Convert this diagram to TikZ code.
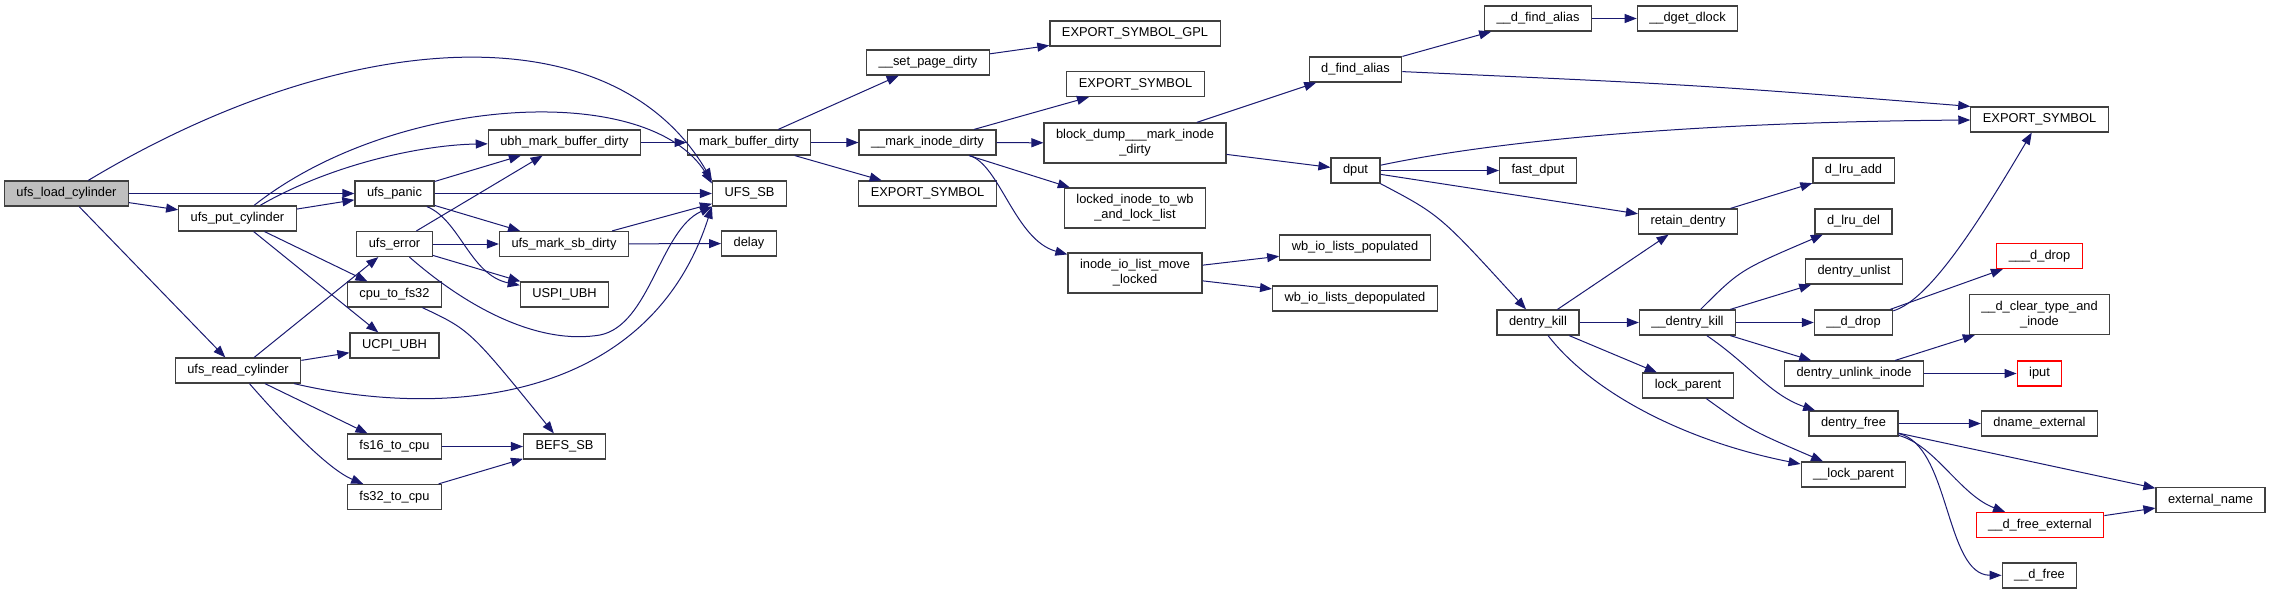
\documentclass[tikz,border=0pt]{standalone}
\usepackage{fontspec}
\setmainfont{Liberation Sans}
\usepackage{xcolor}
\usetikzlibrary{arrows.meta}
\definecolor{edgeblue}{HTML}{191970}
\definecolor{rootgray}{HTML}{BFBFBF}
\tikzset{
  fnbox/.style={draw=black!75, line width=1.2pt, fill=white, rectangle,
    minimum height=25pt, inner xsep=12pt, inner ysep=3pt, align=center,
    font=\fontsize{12.85}{15}\selectfont},
  rootbox/.style={fnbox, fill=rootgray},
  truncbox/.style={fnbox, draw=red},
  tallbox/.style={fnbox, minimum height=40pt},
  callarrow/.style={draw=edgeblue, line width=1pt, -{Triangle[length=12pt,width=9pt]}}
}
\begin{document}
\begin{tikzpicture}[x=1pt, y=-1pt]
            \useasboundingbox (0,0) rectangle (2269,595);
            \node[rootbox] (loadcyl) at (66.5,193.5) {ufs\_load\_cylinder};
            \node[fnbox] (putcyl) at (237.5,218.5) {ufs\_put\_cylinder};
            \node[fnbox] (readcyl) at (238,370.5) {ufs\_read\_cylinder};
            \node[fnbox] (panic) at (394.5,193.5) {ufs\_panic};
            \node[fnbox] (uerror) at (394.5,244) {ufs\_error};
            \node[fnbox] (cpufs32) at (394.5,294.5) {cpu\_to\_fs32};
            \node[fnbox] (ucpi) at (394.5,345.5) {UCPI\_UBH};
            \node[fnbox] (fs16) at (394.5,446.5) {fs16\_to\_cpu};
            \node[fnbox] (fs32) at (394.5,497) {fs32\_to\_cpu};
            \node[fnbox] (ubhdirty) at (564.5,142.5) {ubh\_mark\_buffer\_dirty};
            \node[fnbox] (sbdirty) at (564,244) {ufs\_mark\_sb\_dirty};
            \node[fnbox] (uspi) at (564.5,294.5) {USPI\_UBH};
            \node[fnbox] (befs) at (564.5,446.5) {BEFS\_SB};
            \node[fnbox] (mbdirty) at (749,142.5) {mark\_buffer\_dirty};
            \node[fnbox] (ufssb) at (749.5,193.5) {UFS\_SB};
            \node[fnbox] (delay) at (749,243.5) {delay};
            \node[fnbox] (setpage) at (928,62.5) {\_\_set\_page\_dirty};
            \node[fnbox] (markinode) at (927.5,142.5) {\_\_mark\_inode\_dirty};
            \node[fnbox] (expsym1) at (927.5,193.5) {EXPORT\_SYMBOL};
            \node[fnbox] (expgpl) at (1135,33.5) {EXPORT\_SYMBOL\_GPL};
            \node[fnbox] (expsym2) at (1135.5,84) {EXPORT\_SYMBOL};
            \node[tallbox] (blockdump) at (1135,143) {block\_dump\_\_\_mark\_inode\\\_dirty};
            \node[tallbox] (lockedinode) at (1135,208) {locked\_inode\_to\_wb\\\_and\_lock\_list};
            \node[tallbox] (iolistmove) at (1135,273) {inode\_io\_list\_move\\\_locked};
            \node[fnbox] (dfindalias) at (1355.5,69.5) {d\_find\_alias};
            \node[fnbox] (dput) at (1355.5,170.5) {dput};
            \node[fnbox] (wbpop) at (1355,247.5) {wb\_io\_lists\_populated};
            \node[fnbox] (wbdepop) at (1355,298.5) {wb\_io\_lists\_depopulated};
            \node[fnbox] (ddfindalias) at (1538,18.5) {\_\_d\_find\_alias};
            \node[fnbox] (dgetdlock) at (1687.5,18.5) {\_\_dget\_dlock};
            \node[fnbox] (fastdput) at (1538,170.5) {fast\_dput};
            \node[fnbox] (dkill) at (1538,322.5) {dentry\_kill};
            \node[fnbox] (retain) at (1688,221.5) {retain\_dentry};
            \node[fnbox] (ddkill) at (1687.5,322.5) {\_\_dentry\_kill};
            \node[fnbox] (lockparent) at (1688,385.5) {lock\_parent};
            \node[fnbox] (lruadd) at (1853.5,170.5) {d\_lru\_add};
            \node[fnbox] (lrudel) at (1853.5,221.5) {d\_lru\_del};
            \node[fnbox] (unlist) at (1854,271.5) {dentry\_unlist};
            \node[fnbox] (ddrop) at (1853.5,322.5) {\_\_d\_drop};
            \node[fnbox] (unlinkinode) at (1854,373.5) {dentry\_unlink\_inode};
            \node[fnbox] (dfree) at (1853.5,423.5) {dentry\_free};
            \node[fnbox] (dlockparent) at (1853.5,474.5) {\_\_lock\_parent};
            \node[fnbox] (expsym3) at (2039.5,119.5) {EXPORT\_SYMBOL};
            \node[truncbox] (dddrop) at (2039.5,256) {\_\_\_d\_drop};
            \node[tallbox] (dclear) at (2039.5,314.5) {\_\_d\_clear\_type\_and\\\_inode};
            \node[truncbox] (iput) at (2039.5,373.5) {iput};
            \node[fnbox] (dnameext) at (2039.5,423.5) {dname\_external};
            \node[truncbox] (dfreeext) at (2040,525) {\_\_d\_free\_external};
            \node[fnbox] (ddfree) at (2039.5,575.5) {\_\_d\_free};
            \node[fnbox] (extname) at (2210.5,500) {external\_name};

            \draw[callarrow] (loadcyl) .. controls (345,26) and (612,10) .. (ufssb.north west);
            \draw[callarrow] (loadcyl) -- (panic);
            \draw[callarrow] (loadcyl) -- (putcyl);
            \draw[callarrow] (loadcyl) -- (readcyl);
            \draw[callarrow] (putcyl) -- (panic);
            \draw[callarrow] (putcyl) .. controls (330,165) and (420,145) .. (ubhdirty);
            \draw[callarrow] (putcyl) .. controls (394,95) and (650,80) .. (ufssb.165);
            \draw[callarrow] (putcyl) -- (cpufs32);
            \draw[callarrow] (putcyl) -- (ucpi);
            \draw[callarrow] (readcyl) -- (uerror);
            \draw[callarrow] (readcyl) -- (ucpi);
            \draw[callarrow] (readcyl) .. controls (450,420) and (650,400) .. (ufssb.south west);
            \draw[callarrow] (readcyl) -- (fs16);
            \draw[callarrow] (readcyl) .. controls (290,430) and (330,470) .. (fs32);
            \draw[callarrow] (panic) -- (ubhdirty);
            \draw[callarrow] (panic) -- (ufssb);
            \draw[callarrow] (panic) -- (sbdirty);
            \draw[callarrow] (panic) .. controls (460,220) and (470,275) .. (uspi);
            \draw[callarrow] (uerror) -- (ubhdirty);
            \draw[callarrow] (uerror) -- (sbdirty);
            \draw[callarrow] (uerror) -- (uspi);
            \draw[callarrow] (uerror) .. controls (470,310) and (540,345) .. (600,335)
                .. controls (650,325) and (660,230) .. (ufssb.south west);
            \draw[callarrow] (cpufs32) .. controls (470,330) .. (befs);
            \draw[callarrow] (fs16) -- (befs);
            \draw[callarrow] (fs32) -- (befs);
            \draw[callarrow] (ubhdirty) -- (mbdirty);
            \draw[callarrow] (sbdirty) -- (ufssb);
            \draw[callarrow] (sbdirty) -- (delay);
            \draw[callarrow] (mbdirty) -- (setpage);
            \draw[callarrow] (mbdirty) -- (markinode);
            \draw[callarrow] (mbdirty) -- (expsym1);
            \draw[callarrow] (setpage) -- (expgpl);
            \draw[callarrow] (markinode) -- (expsym2);
            \draw[callarrow] (markinode) -- (blockdump);
            \draw[callarrow] (markinode) -- (lockedinode);
            \draw[callarrow] (markinode) .. controls (1000,165) and (1015,240) .. (iolistmove);
            \draw[callarrow] (blockdump) -- (dfindalias);
            \draw[callarrow] (blockdump) -- (dput);
            \draw[callarrow] (iolistmove) -- (wbpop);
            \draw[callarrow] (iolistmove) -- (wbdepop);
            \draw[callarrow] (dfindalias) -- (ddfindalias);
            \draw[callarrow] (dfindalias) .. controls (1700,85) .. (expsym3.north west);
            \draw[callarrow] (ddfindalias) -- (dgetdlock);
            \draw[callarrow] (dput) .. controls (1500,140) and (1700,122) .. (expsym3);
            \draw[callarrow] (dput) -- (fastdput);
            \draw[callarrow] (dput) -- (retain);
            \draw[callarrow] (dput) .. controls (1440,215) .. (dkill);
            \draw[callarrow] (retain) -- (lruadd);
            \draw[callarrow] (dkill) -- (retain);
            \draw[callarrow] (dkill) -- (ddkill);
            \draw[callarrow] (dkill) -- (lockparent);
            \draw[callarrow] (dkill) .. controls (1590,390) and (1680,440) .. (dlockparent);
            \draw[callarrow] (ddkill) .. controls (1740,270) .. (lrudel);
            \draw[callarrow] (ddkill) -- (unlist);
            \draw[callarrow] (ddkill) -- (ddrop);
            \draw[callarrow] (ddkill) -- (unlinkinode);
            \draw[callarrow] (ddkill) .. controls (1750,365) and (1770,395) .. (dfree);
            \draw[callarrow] (lockparent) .. controls (1750,430) .. (dlockparent);
            \draw[callarrow] (ddrop) -- (dddrop);
            \draw[callarrow] (ddrop) .. controls (1930,300) and (1980,220) .. (expsym3);
            \draw[callarrow] (unlinkinode) -- (dclear);
            \draw[callarrow] (unlinkinode) -- (iput);
            \draw[callarrow] (dfree) -- (dnameext);
            \draw[callarrow] (dfree) -- (extname);
            \draw[callarrow] (dfree) .. controls (1935,445) and (1960,495) .. (dfreeext);
            \draw[callarrow] (dfree) .. controls (1950,445) and (1945,575) .. (ddfree);
            \draw[callarrow] (dfreeext) -- (extname);
        \end{tikzpicture}
\end{document}
